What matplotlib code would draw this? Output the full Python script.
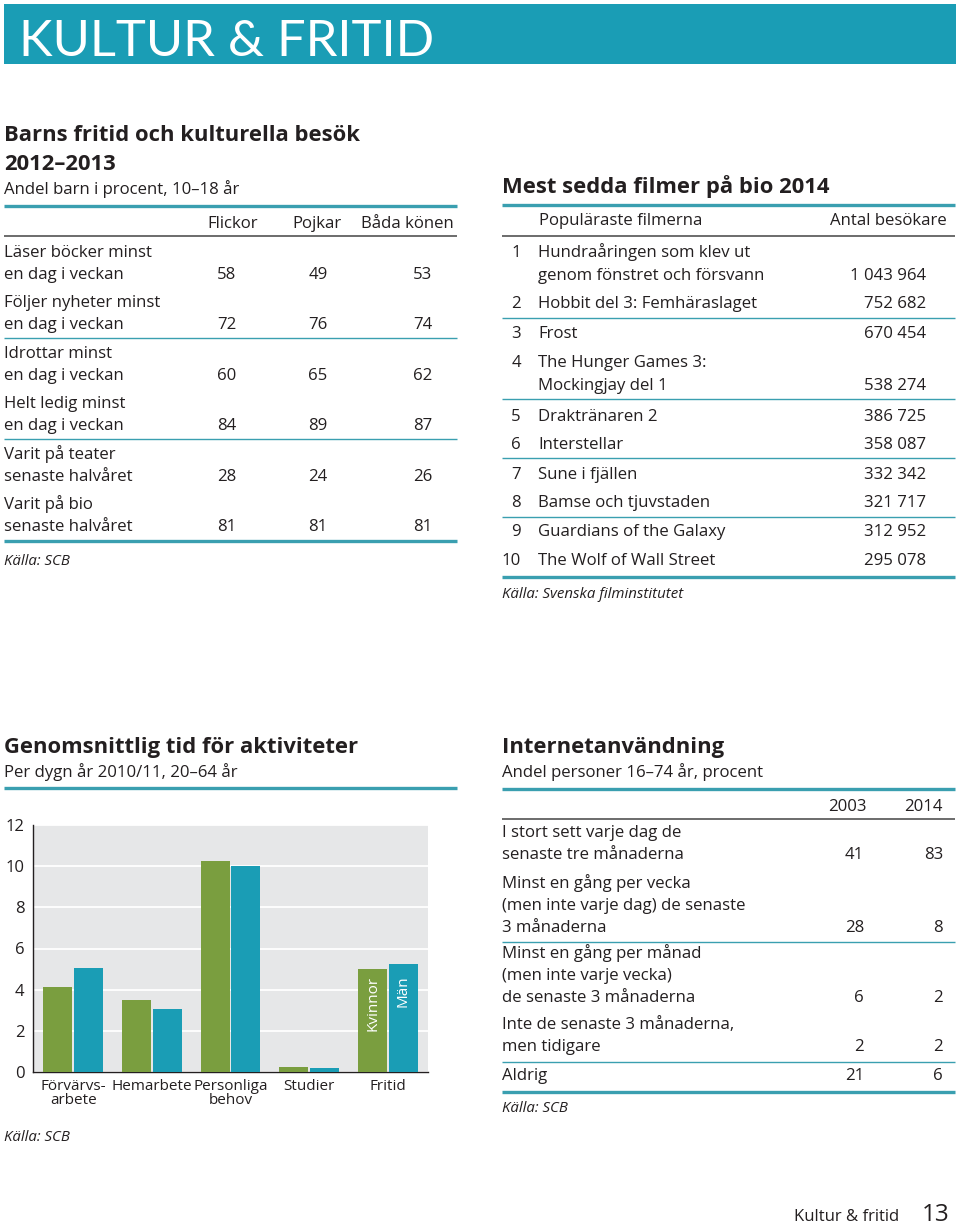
import matplotlib
matplotlib.use("Agg")
import matplotlib.pyplot as plt
from matplotlib.patches import Rectangle

plt.rcParams['font.family'] = ['Open Sans', 'DejaVu Sans']

# Data
barn_rader = ["Läser böcker minst\nen dag i veckan", "Följer nyheter minst\nen dag i veckan",
              "Idrottar minst\nen dag i veckan", "Helt ledig minst\nen dag i veckan",
              "Varit på teater\nsenaste halvåret", "Varit på bio\nsenaste halvåret"]
barn_kolumner = ["Flickor", "Pojkar", "Båda könen"]
flickor = [58, 72, 60, 84, 28, 81]
pojkar = [49, 76, 65, 89, 24, 81]
bada = [53, 74, 62, 87, 26, 81]

filmer = ["Hundraåringen som klev ut\ngenom fönstret och försvann", "Hobbit del 3: Femhäraslaget",
          "Frost", "The Hunger Games 3:\nMockingjay del 1", "Drakträнaren 2".replace("н", "n"),
          "Interstellar", "Sune i fjällen", "Bamse och tjuvstaden",
          "Guardians of the Galaxy", "The Wolf of Wall Street"]
besokare = [1043964, 752682, 670454, 538274, 386725, 358087, 332342, 321717, 312952, 295078]

aktiviteter = ["Förvärvs-\narbete", "Hemarbete", "Personliga\nbehov", "Studier", "Fritid"]
kvinnor = [4.15, 3.5, 10.25, 0.25, 5.0]
man = [5.05, 3.05, 10.0, 0.2, 5.25]

internet_rader = ["I stort sett varje dag de\nsenaste tre månaderna",
                  "Minst en gång per vecka\n(men inte varje dag) de senaste\n3 månaderna",
                  "Minst en gång per månad\n(men inte varje vecka)\nde senaste 3 månaderna",
                  "Inte de senaste 3 månaderna,\nmen tidigare", "Aldrig"]
ar_2003 = [41, 28, 6, 2, 21]
ar_2014 = [83, 8, 2, 2, 6]

# Colours
TEAL = '#1a9db5'
LINE = '#3a9fb0'
GREEN = '#7a9e3f'
TXT = '#231f20'
GREY = '#e6e7e8'
BODY = 12.1

fig = plt.figure(figsize=(9.6, 12.27), dpi=100)
ax = fig.add_axes([0, 0, 1, 1])
ax.set_xlim(0, 960)
ax.set_ylim(1227, 0)
ax.axis('off')


def txt(x, y, s, size=BODY, ha='left', **kw):
    kw.setdefault('color', TXT)
    ax.text(x, y, s, fontsize=size, ha=ha, va='baseline', **kw)


def hline(y, x0, x1, lw=1.0, color=LINE):
    ax.plot([x0, x1], [y, y], color=color, lw=lw, solid_capstyle='butt')


def fmt(n):
    return f"{n:,}".replace(",", " ")


# Header band
ax.add_patch(Rectangle((4, 4), 952, 60, color=TEAL, lw=0))
txt(19, 56, "KULTUR & FRITID", size=36.5, color='white', family=['Lato', 'DejaVu Sans'])

# --- Barns fritid ---
L0, L1 = 4, 457
TSZ = 15.8
txt(L0, 141, "Barns fritid och kulturella besök", size=TSZ, fontweight='bold')
txt(L0, 170, "2012–2013", size=TSZ, fontweight='bold')
txt(L0, 194, "Andel barn i procent, 10–18 år")
hline(206, L0, L1, lw=2.4)
txt(233, 228, barn_kolumner[0], ha='center')
txt(317, 228, barn_kolumner[1], ha='center')
txt(454, 228, barn_kolumner[2], ha='right')
hline(236, L0, L1, lw=1.1, color='#444444')
barn_y = [279, 329, 380, 430, 481, 531]
for i, lab in enumerate(barn_rader):
    y = barn_y[i]
    l1, l2 = lab.split("\n")
    txt(L0, y - 22, l1)
    txt(L0, y, l2)
    txt(227, y, str(flickor[i]), ha='center')
    txt(318, y, str(pojkar[i]), ha='center')
    txt(423, y, str(bada[i]), ha='center')
hline(338, L0, L1)
hline(439, L0, L1)
hline(541, L0, L1, lw=2.4)
txt(L0, 565, "Källa: SCB", size=10.8, style='italic')

# --- Mest sedda filmer ---
R0, R1 = 502, 955
txt(R0, 193, "Mest sedda filmer på bio 2014", size=TSZ, fontweight='bold')
hline(205, R0, R1, lw=2.4)
txt(539, 225, "Populäraste filmerna")
txt(947, 225, "Antal besökare", ha='right')
hline(236, R0, R1, lw=1.1, color='#444444')
film_y = [280, 308, 338, 390, 421, 449, 479, 507, 536, 565]
for i, f in enumerate(filmer):
    y = film_y[i]
    parts = f.split("\n")
    first = y - 23 * (len(parts) - 1)
    txt(521, first, str(i + 1), ha='right')
    for k, p in enumerate(parts):
        txt(538, y - 23 * (len(parts) - 1 - k), p)
    txt(926, y, fmt(besokare[i]), ha='right')
for yy in (318, 399, 458, 517):
    hline(yy, R0, R1)
hline(577, R0, R1, lw=2.4)
txt(R0, 598, "Källa: Svenska filminstitutet", size=10.8, style='italic')

# --- Genomsnittlig tid ---
txt(L0, 753, "Genomsnittlig tid för aktiviteter", size=TSZ, fontweight='bold')
txt(L0, 777, "Per dygn år 2010/11, 20–64 år")
hline(788, L0, L1, lw=2.4)
txt(L0, 1141, "Källa: SCB", size=10.8, style='italic')

bx = fig.add_axes([33 / 960, 1 - 1072 / 1227, 395 / 960, 247 / 1227])
bx.set_facecolor(GREY)
pos = list(range(len(aktiviteter)))
w = 0.37
bx.bar([p - 0.195 for p in pos], kvinnor, width=w, color=GREEN, zorder=3)
bx.bar([p + 0.195 for p in pos], man, width=w, color=TEAL, zorder=3)
bx.set_xlim(-0.51, 4.51)
bx.set_ylim(0, 12)
bx.set_yticks(range(0, 13, 2))
bx.set_xticks(pos)
bx.set_xticklabels(aktiviteter, linespacing=0.95)
bx.tick_params(length=0, colors=TXT)
bx.tick_params(axis='y', labelsize=12, pad=6)
bx.tick_params(axis='x', labelsize=11, pad=5)
bx.grid(axis='y', color='white', lw=1.3, zorder=1)
for side in ('top', 'right'):
    bx.spines[side].set_visible(False)
for side in ('left', 'bottom'):
    bx.spines[side].set_color(TXT)
    bx.spines[side].set_linewidth(1.0)
bx.text(4 - 0.195, kvinnor[4] - 0.35, "Kvinnor", rotation=90, ha='center', va='top',
        color='white', fontsize=11)
bx.text(4 + 0.195, man[4] - 0.55, "Män", rotation=90, ha='center', va='top',
        color='white', fontsize=11)

# --- Internetanvändning ---
txt(R0, 753, "Internetanvändning", size=TSZ, fontweight='bold')
txt(R0, 777, "Andel personer 16–74 år, procent")
hline(789, R0, R1, lw=2.4)
txt(867, 811, "2003", ha='right')
txt(943, 811, "2014", ha='right')
hline(819, R0, R1, lw=1.1, color='#444444')
net_y = [859, 932, 1002, 1051, 1080]
for i, lab in enumerate(internet_rader):
    y = net_y[i]
    parts = lab.split("\n")
    for k, p in enumerate(parts):
        txt(R0, y - 22 * (len(parts) - 1 - k), p)
    txt(864, y, str(ar_2003[i]), ha='right')
    txt(943, y, str(ar_2014[i]), ha='right')
hline(942, R0, R1)
hline(1062, R0, R1)
hline(1092, R0, R1, lw=2.4)
txt(R0, 1112, "Källa: SCB", size=10.8, style='italic')

# Footer
txt(899, 1221, "Kultur & fritid", size=12, ha='right')
txt(950, 1221, "13", size=17.5, ha='right')

fig.savefig("out.png", dpi=100)
